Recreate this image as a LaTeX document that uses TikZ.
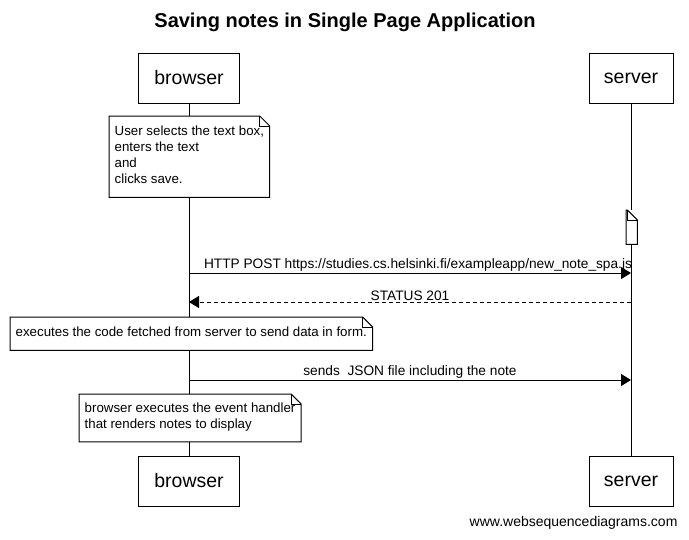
\documentclass[tikz,border=0pt]{standalone}
\usepackage{fontspec}
\setmainfont{Liberation Sans}
\usetikzlibrary{arrows.meta}

\tikzset{
  actor/.style={draw, line width=1pt, fill=white, minimum height=50pt, inner sep=0pt,
    font=\fontsize{19.5}{22}\selectfont},
  notebox/.style={fill=white, anchor=north west, align=left, inner xsep=5.5pt, inner ysep=8.5pt,
    font=\fontsize{13.3}{16}\selectfont, execute at begin node=\strut, execute at end node=\strut},
  msg/.style={line width=1pt, -{Triangle[length=10pt,width=12pt]}},
  reply/.style={msg, dash pattern=on 4pt off 3pt},
  msglabel/.style={above, inner sep=1pt, font=\fontsize{13.7}{16}\selectfont}
}
% outline of a note with a folded corner
\newcommand{\foldnote}[1]{%
  \draw[line width=1pt] (#1.north west) -- ([xshift=-10pt]#1.north east) -- ([yshift=-10pt]#1.north east)
    -- (#1.south east) -- (#1.south west) -- cycle;
  \draw[line width=1pt] ([xshift=-10pt]#1.north east) |- ([yshift=-10pt]#1.north east);}

\begin{document}
\begin{tikzpicture}[x=1pt, y=-1pt]
        \fill[white] (0,0) rectangle (689,539);
        \useasboundingbox (0,0) rectangle (689,539);

        % Title
        \node[font=\bfseries\fontsize{20}{24}\selectfont] (title) at (345,22) {Saving notes in Single Page Application};

        % Actors
        \node[actor, minimum width=101pt] (browserTop) at (189,78) {browser};
        \node[actor, minimum width=84pt] (serverTop) at (631,78) {server};
        \node[actor, minimum width=101pt] (browserBot) at (189,481) {browser};
        \node[actor, minimum width=84pt] (serverBot) at (631,481) {server};

        % Lifelines
        \draw[line width=1pt] (browserTop) -- (browserBot);
        \draw[line width=1pt] (serverTop) -- (serverBot);

        % Notes
        \node[notebox, minimum height=81pt] (select) at (109,116) {User selects the text box,\\enters the text\\and\\clicks save.};
        \foldnote{select}
        \node[notebox, minimum width=11pt, minimum height=34pt, inner sep=0pt,
          execute at begin node={}, execute at end node={}] (blank) at (626,210) {};
        \foldnote{blank}
        \node[notebox] (execute) at (10,317) {executes the code fetched from server to send data in form.};
        \foldnote{execute}
        \node[notebox] (render) at (79,394) {browser executes the event handler\\that renders notes to display};
        \foldnote{render}

        % Messages
        \coordinate (b1) at (189,273);
        \coordinate (s1) at (631,273);
        \coordinate (b2) at (189,302);
        \coordinate (s2) at (631,302);
        \coordinate (b3) at (189,380);
        \coordinate (s3) at (631,380);
        \draw[msg] (b1) -- (s1) node[msglabel, midway, xshift=8pt] {HTTP POST https://studies.cs.helsinki.fi/exampleapp/new\_note\_spa.js};
        \draw[reply] (s2) -- (b2) node[msglabel, midway] {STATUS 201};
        \draw[msg] (b3) -- (s3) node[msglabel, midway] {sends\ \ JSON file including the note};

        % Footer
        \node[anchor=east, font=\fontsize{14}{16}\selectfont] (footer) at (681,523) {www.websequencediagrams.com};
\end{tikzpicture}
\end{document}
